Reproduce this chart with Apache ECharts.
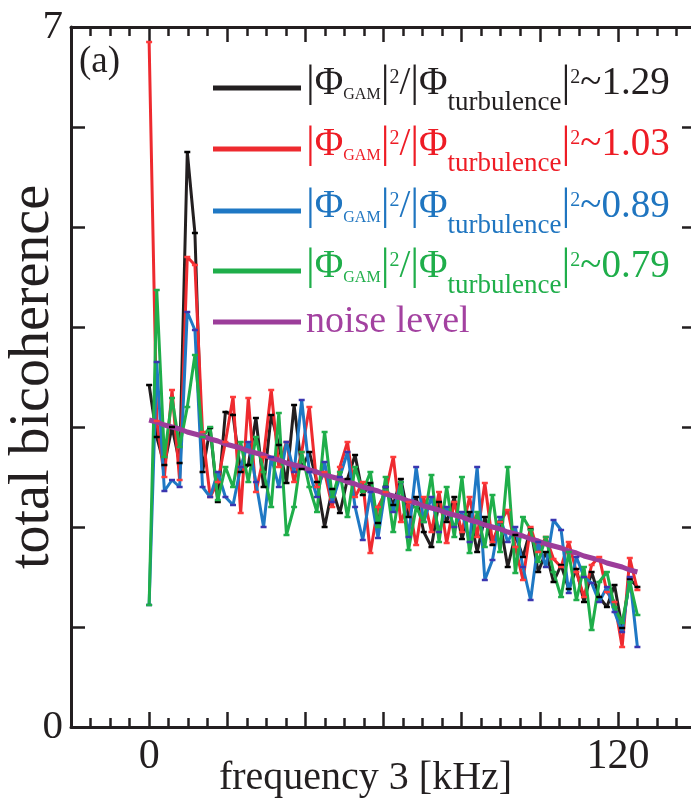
<!DOCTYPE html>
<html>
<head>
<meta charset="utf-8">
<script src="https://cdn.jsdelivr.net/npm/echarts@6/dist/echarts.min.js"></script>
<style>
  html, body { margin: 0; padding: 0; background: #ffffff; }
  #chart { width: 691px; height: 803px; }
</style>
</head>
<body>
<div id="chart"></div>
<script>
// frequency 3 grid [kHz]
const freq = [0, 1.95, 3.91, 5.86, 7.81, 9.77, 11.72, 13.67, 15.63, 17.58, 19.53, 21.48, 23.44, 25.39, 27.34, 29.30,
  31.25, 33.20, 35.16, 37.11, 39.06, 41.02, 42.97, 44.92, 46.88, 48.83, 50.78, 52.73, 54.69, 56.64, 58.59, 60.55,
  62.50, 64.45, 66.41, 68.36, 70.31, 72.27, 74.22, 76.17, 78.13, 80.08, 82.03, 83.98, 85.94, 87.89, 89.84, 91.80,
  93.75, 95.70, 97.66, 99.61, 101.56, 103.52, 105.47, 107.42, 109.38, 111.33, 113.28, 115.23, 117.19, 119.14,
  121.09, 123.05, 125.00];

// total bicoherence, |Φ_GAM|²/|Φ_turbulence|² ~ 1.29
const bic129 = [3.42, 2.90, 2.62, 3.00, 2.64, 5.75, 4.94, 2.55, 2.99, 2.25, 3.15, 3.12, 2.55, 2.62, 3.09, 2.40,
  3.12, 2.82, 2.44, 3.22, 2.58, 2.75, 2.45, 2.00, 2.38, 2.14, 2.48, 2.72, 2.32, 2.44, 2.04, 2.40,
  2.22, 2.48, 2.10, 2.30, 1.95, 1.80, 2.25, 2.05, 2.30, 1.88, 2.15, 1.75, 2.10, 1.82, 2.05, 1.60,
  1.92, 1.70, 1.98, 1.55, 1.75, 1.45, 1.62, 1.38, 1.58, 1.25, 1.55, 1.30, 1.20, 1.42, 0.99, 1.48, 1.40];

// ~ 1.03
const bic103 = [6.85, 3.06, 2.50, 3.37, 2.47, 4.70, 4.62, 2.95, 2.30, 2.45, 2.85, 3.30, 2.14, 3.29, 2.35, 2.70,
  3.37, 2.60, 2.85, 2.45, 2.75, 3.20, 2.40, 2.55, 2.20, 2.60, 2.85, 2.30, 2.45, 1.74, 2.20, 2.35,
  2.70, 2.05, 2.25, 1.82, 2.30, 1.95, 2.35, 1.84, 2.25, 1.95, 2.30, 1.90, 2.44, 1.85, 2.05, 2.17,
  1.80, 1.47, 2.00, 1.75, 1.90, 1.68, 1.60, 1.85, 1.55, 1.30, 1.62, 1.70, 1.35, 1.25, 0.80, 1.69, 1.37];

// ~ 0.89
const bic089 = [1.22, 3.65, 2.36, 2.47, 2.40, 4.15, 3.97, 2.40, 2.30, 2.55, 2.30, 2.22, 2.60, 2.85, 2.45, 2.00,
  2.70, 2.40, 2.85, 2.55, 3.27, 2.55, 2.30, 2.65, 2.25, 2.50, 2.75, 2.20, 1.87, 2.35, 1.89, 2.40,
  2.15, 2.45, 1.90, 2.60, 2.05, 2.30, 1.95, 2.20, 2.00, 2.15, 1.85, 2.60, 1.47, 1.67, 2.10, 1.85,
  2.00, 1.60, 1.27, 1.85, 1.60, 2.07, 1.97, 1.34, 1.70, 1.50, 1.44, 1.25, 1.40, 1.15, 0.95, 1.50, 0.80];

// ~ 0.79
const bic079 = [1.22, 4.37, 2.70, 3.29, 2.80, 3.20, 3.72, 2.90, 3.00, 2.27, 2.60, 2.40, 2.85, 2.45, 2.90, 2.55,
  2.20, 3.14, 1.92, 2.20, 2.75, 2.40, 2.15, 2.95, 2.30, 2.55, 2.10, 2.60, 2.35, 2.55, 2.00, 2.50,
  1.95, 2.45, 1.77, 2.20, 2.05, 2.52, 1.85, 2.40, 1.90, 2.50, 1.74, 2.15, 1.80, 2.32, 1.75, 2.60,
  1.54, 2.10, 1.97, 1.65, 1.90, 1.55, 1.30, 1.75, 1.27, 1.60, 0.97, 1.45, 1.55, 1.20, 1.04, 1.45, 1.12];

// noise level
const noise = [3.07, 3.05, 3.02, 3.00, 2.98, 2.95, 2.93, 2.91, 2.88, 2.86, 2.83, 2.81, 2.79, 2.76, 2.74, 2.72,
  2.69, 2.67, 2.64, 2.62, 2.60, 2.57, 2.55, 2.52, 2.50, 2.48, 2.45, 2.43, 2.40, 2.38, 2.36, 2.33,
  2.31, 2.29, 2.26, 2.24, 2.21, 2.19, 2.17, 2.14, 2.12, 2.10, 2.07, 2.05, 2.02, 2.00, 1.98, 1.95,
  1.93, 1.91, 1.88, 1.86, 1.83, 1.81, 1.79, 1.76, 1.74, 1.71, 1.69, 1.67, 1.64, 1.62, 1.60, 1.57, 1.55];

const xTickLabels = [0, 120];
const yTickLabels = [0, 7];
const ratios = ['1.29', '1.03', '0.89', '0.79'];

const SERIF = "'Liberation Serif', 'DejaVu Serif', 'Times New Roman', serif";
const INK = '#231f20';

const pairs = arr => freq.map((f, i) => [f, arr[i]]);

const seriesDefs = [
  { name: 'r129', data: bic129, line: '#231f20', mark: '#000000', text: '#231f20' },
  { name: 'r103', data: bic103, line: '#ee2a2f', mark: '#ff3b3b', text: '#ee1c25' },
  { name: 'r089', data: bic089, line: '#1f78c4', mark: '#3a36b0', text: '#1f75c0' },
  { name: 'r079', data: bic079, line: '#1fae4a', mark: '#1fae4a', text: '#1fae4a' }
];

// Legend label: one 44px line; every token is top-aligned and its box
// height sets where its glyphs centre (sub/superscripts).
const LINE_H = 44;
const richStyles = {
  m:   { fontFamily: SERIF, fontSize: 39, lineHeight: LINE_H, height: 36, verticalAlign: 'top' },
  bar: { fontFamily: SERIF, fontSize: 44, lineHeight: LINE_H, height: 36, verticalAlign: 'top' },
  g:   { fontFamily: SERIF, fontSize: 16, lineHeight: 1, height: 58, verticalAlign: 'top' },
  t:   { fontFamily: SERIF, fontSize: 27, lineHeight: 1, height: 73, verticalAlign: 'top' },
  p:   { fontFamily: SERIF, fontSize: 20, lineHeight: 1, height: 24, verticalAlign: 'top' }
};

const legendRowsY = [84, 145, 207, 267, 322];

const legends = seriesDefs.map((s, i) => ({
  orient: 'vertical',
  left: 213,
  top: legendRowsY[i] - LINE_H / 2,
  padding: 0,
  itemWidth: 88,
  itemHeight: 5,
  icon: 'rect',
  selectedMode: false,
  data: [{
    name: s.name,
    itemStyle: { color: s.line },
    textStyle: { color: s.text, rich: richStyles }
  }],
  formatter: () => '{bar||}{m|Φ}{g|GAM}{bar||}{p|2}{m|/}{bar||}{m|Φ}{t|turbulence}{bar||}{p|2}{m|~' + ratios[i] + '}'
}));

legends.push({
  left: 213,
  top: legendRowsY[4] - 20,
  padding: 0,
  itemWidth: 88,
  itemHeight: 5,
  icon: 'rect',
  selectedMode: false,
  data: [{ name: 'noise level', itemStyle: { color: '#9c3d9a' } }],
  textStyle: { color: '#a341a0', fontFamily: SERIF, fontSize: 38, lineHeight: 40 }
});

const series = seriesDefs.map(s => ({
  name: s.name,
  type: 'line',
  data: pairs(s.data),
  showSymbol: true,
  symbol: 'rect',
  symbolSize: [6, 2.5],
  itemStyle: { color: s.mark },
  lineStyle: { color: s.line, width: 3 },
  emphasis: { disabled: true },
  silent: true
}));

series.push({
  name: 'noise level',
  type: 'line',
  data: pairs(noise),
  showSymbol: false,
  itemStyle: { color: '#9c3d9a' },
  lineStyle: { color: '#9c3d9a', width: 5 },
  emphasis: { disabled: true },
  silent: true
});

const axisLineStyle = { show: true, onZero: false, lineStyle: { color: INK, width: 3 } };

const chart = echarts.init(document.getElementById('chart'), null, { renderer: 'canvas' });
chart.setOption({
  animation: false,
  backgroundColor: '#ffffff',
  grid: { left: 71, right: -5, top: 27, bottom: 76, containLabel: false, outerBoundsMode: 'none' },
  legend: legends,
  xAxis: [
    {
      type: 'value', position: 'bottom', min: -20, max: 140, interval: 20,
      axisLine: axisLineStyle,
      axisTick: { show: true, inside: true, length: 15, lineStyle: { color: INK, width: 2.5 } },
      minorTick: { show: true, splitNumber: 4, length: 9, lineStyle: { color: INK, width: 2.5 } },
      splitLine: { show: false },
      axisLabel: {
        show: true, margin: 9, color: INK, fontFamily: SERIF, fontSize: 42,
        formatter: v => (xTickLabels.includes(v) ? String(v) : '')
      },
      name: 'frequency 3 [kHz]', nameLocation: 'middle', nameGap: 31, nameMoveOverlap: false,
      nameTextStyle: { color: INK, fontFamily: SERIF, fontSize: 40, padding: [0, 36, 0, 0] }
    },
    {
      type: 'value', position: 'top', min: -20, max: 140, interval: 20,
      axisLine: axisLineStyle,
      axisTick: { show: true, inside: true, length: 15, lineStyle: { color: INK, width: 2.5 } },
      minorTick: { show: true, splitNumber: 4, length: 9, lineStyle: { color: INK, width: 2.5 } },
      splitLine: { show: false },
      axisLabel: { show: false }
    }
  ],
  yAxis: [
    {
      type: 'value', position: 'left', min: 0, max: 7, interval: 1,
      axisLine: axisLineStyle,
      axisTick: { show: true, inside: true, length: 14, lineStyle: { color: INK, width: 2.5 } },
      splitLine: { show: false },
      axisLabel: {
        show: true, margin: 8, color: INK, fontFamily: SERIF, fontSize: 41,
        showMinLabel: true, showMaxLabel: true,
        formatter: v => (yTickLabels.includes(v) ? String(v) : '')
      },
      name: 'total bicoherence', nameLocation: 'middle', nameGap: 10, nameRotate: 90, nameMoveOverlap: false,
      nameTextStyle: { color: INK, fontFamily: SERIF, fontSize: 56 }
    },
    {
      type: 'value', position: 'right', min: 0, max: 7, interval: 1,
      axisLine: axisLineStyle,
      axisTick: { show: true, inside: true, length: 14, lineStyle: { color: INK, width: 2.5 } },
      splitLine: { show: false },
      axisLabel: { show: false }
    }
  ],
  graphic: [
    {
      type: 'text', left: 79, top: 44, silent: true,
      style: { text: '(a)', fill: INK, font: "37px 'Liberation Serif', serif" }
    }
  ],
  series: series
});
</script>
</body>
</html>
